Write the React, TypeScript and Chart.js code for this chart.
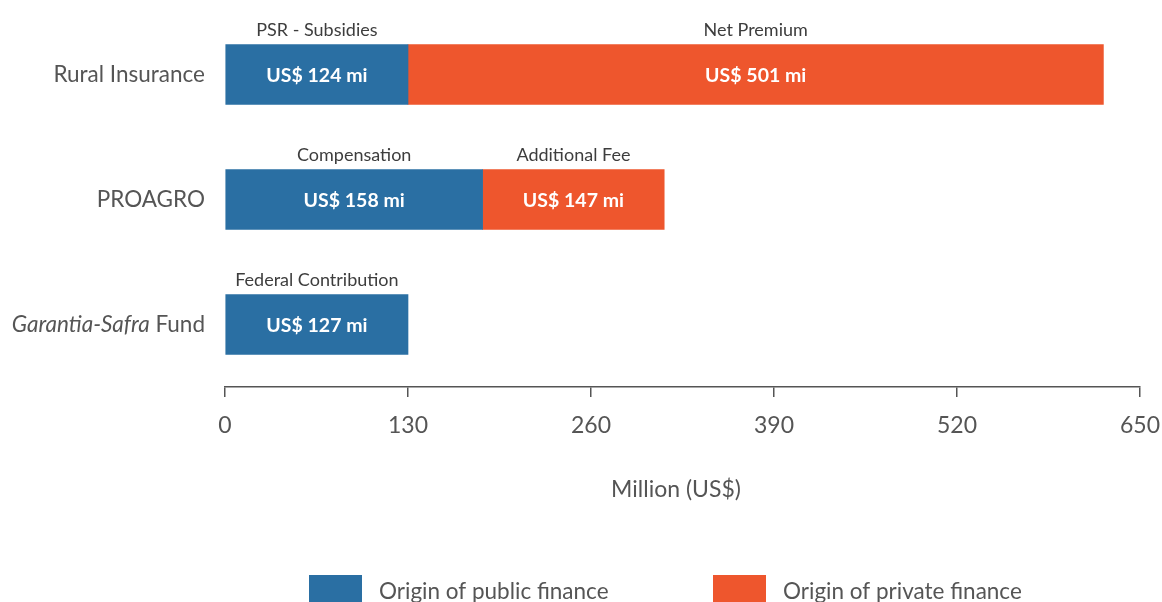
import React, { useEffect, useRef } from "react";
import { Chart, registerables } from "chart.js";

Chart.register(...registerables);

const categories = ["Rural Insurance", "PROAGRO", "Garantia-Safra Fund"];
const categoryItalic = ["", "", "Garantia-Safra"];
const publicValues = [130, 183, 130];
const privateValues: (number | null)[] = [494, 129, null];
const publicTitles = ["PSR - Subsidies", "Compensation", "Federal Contribution"];
const privateTitles = ["Net Premium", "Additional Fee", ""];
const publicLabels = ["US$ 124 mi", "US$ 158 mi", "US$ 127 mi"];
const privateLabels = ["US$ 501 mi", "US$ 147 mi", ""];
const seriesNames = ["Origin of public finance", "Origin of private finance"];
const xTicks = [0, 130, 260, 390, 520, 650];
const axisTitle = "Million (US$)";

const BLUE = "#2a6fa3";
const ORANGE = "#ee562d";
const GRAY = "#555555";
const FONT = "Lato, 'Open Sans', sans-serif";

const annotate = {
  id: "annotate",
  afterDatasetsDraw(chart: any) {
    const ctx = chart.ctx;
    const titles = [publicTitles, privateTitles];
    const labels = [publicLabels, privateLabels];
    ctx.save();
    chart.data.datasets.forEach((_: any, di: number) => {
      const meta = chart.getDatasetMeta(di);
      meta.data.forEach((bar: any, i: number) => {
        const v = chart.data.datasets[di].data[i];
        if (v === null || v === undefined) return;
        const left = Math.min(bar.x, bar.base);
        const right = Math.max(bar.x, bar.base);
        const cx = (left + right) / 2;
        const top = bar.y - bar.height / 2;
        ctx.textAlign = "center";
        ctx.textBaseline = "middle";
        if (titles[di][i]) {
          ctx.fillStyle = "#3d3d3d";
          ctx.font = `18px ${FONT}`;
          ctx.fillText(titles[di][i], cx, top - 14);
        }
        if (labels[di][i]) {
          ctx.fillStyle = "#ffffff";
          ctx.font = `bold 19.5px ${FONT}`;
          ctx.fillText(labels[di][i], cx, bar.y + 1);
        }
      });
    });

    // category labels
    const yScale = chart.scales.y;
    ctx.textBaseline = "middle";
    ctx.fillStyle = GRAY;
    const cf = 22.5;
    categories.forEach((c, i) => {
      const y = yScale.getPixelForTick(i);
      const xr = chart.chartArea.left - 20;
      const it = categoryItalic[i];
      if (it && c.startsWith(it)) {
        const rest = c.slice(it.length);
        ctx.font = `${cf}px ${FONT}`;
        const wRest = ctx.measureText(rest).width;
        ctx.textAlign = "right";
        ctx.fillText(rest, xr, y);
        ctx.font = `italic ${cf}px ${FONT}`;
        ctx.fillText(it, xr - wRest, y);
      } else {
        ctx.font = `${cf}px ${FONT}`;
        ctx.textAlign = "right";
        ctx.fillText(c, xr, y);
      }
    });

    // axis title
    ctx.font = `23px ${FONT}`;
    ctx.textAlign = "center";
    ctx.fillStyle = GRAY;
    ctx.fillText(axisTitle, 676, 490);

    // legend
    const colors = [BLUE, ORANGE];
    const lx = [309, 713];
    seriesNames.forEach((n, i) => {
      ctx.fillStyle = colors[i];
      ctx.fillRect(lx[i], 575, 53, 30);
      ctx.fillStyle = GRAY;
      ctx.textAlign = "left";
      ctx.font = `22.5px ${FONT}`;
      ctx.fillText(n, lx[i] + 70, 592);
    });
    ctx.restore();
  },
};

export default function App() {
  const ref = useRef<HTMLCanvasElement>(null);
  useEffect(() => {
    document.body.style.margin = "0";
    const chart = new Chart(ref.current as HTMLCanvasElement, {
      type: "bar",
      data: {
        labels: categories,
        datasets: [
          { label: seriesNames[0], data: publicValues, backgroundColor: BLUE, barThickness: 60 },
          { label: seriesNames[1], data: privateValues, backgroundColor: ORANGE, barThickness: 60 },
        ],
      },
      options: {
        indexAxis: "y",
        animation: false,
        responsive: false,
        layout: { padding: { top: 12, right: 0, left: 0, bottom: 0 } },
        plugins: { legend: { display: false }, tooltip: { enabled: false } },
        scales: {
          x: {
            stacked: true,
            min: 0,
            max: 650,
            afterBuildTicks: (s: any) => {
              s.ticks = xTicks.map((v) => ({ value: v }));
            },
            afterFit: (s: any) => {
              s.height = 215;
              s.paddingRight = 22;
            },
            grid: {
              display: true,
              drawOnChartArea: false,
              drawTicks: true,
              tickLength: 10,
              color: GRAY,
              lineWidth: 1.5,
            },
            border: { display: true, color: GRAY, width: 1.5 },
            ticks: {
              color: GRAY,
              font: { family: FONT, size: 23 },
              padding: 15,
              maxRotation: 0,
            },
          },
          y: {
            stacked: true,
            afterFit: (s: any) => {
              s.width = 225;
            },
            grid: { display: false },
            border: { display: false },
            ticks: { display: false },
          },
        },
      },
      plugins: [annotate],
    } as any);
    return () => chart.destroy();
  }, []);
  return (
    <div style={{ width: 1162, height: 602 }}>
      <canvas ref={ref} width={1162} height={602} />
    </div>
  );
}
